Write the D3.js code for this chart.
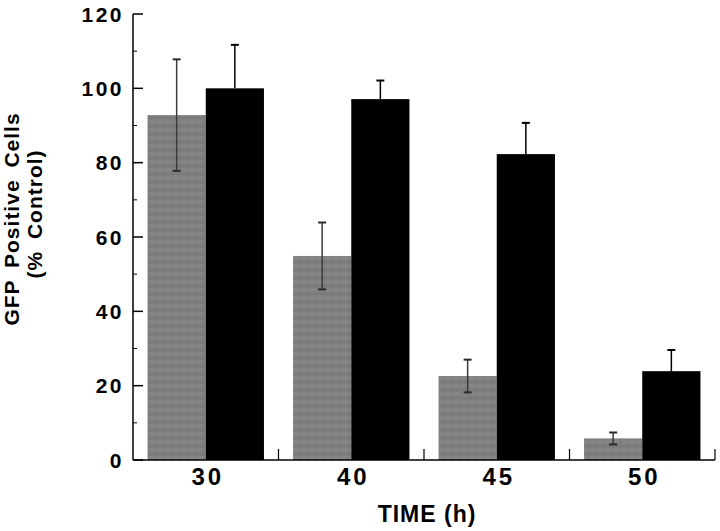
<!DOCTYPE html>
<html>
<head>
<meta charset="utf-8">
<script src="https://cdn.jsdelivr.net/npm/d3@7"></script>
<style>
  html, body { margin: 0; padding: 0; background: #fff; }
  svg { display: block; }
  text { font-family: "Liberation Sans", Arial, Helvetica, sans-serif; font-weight: bold; fill: #000; }
</style>
</head>
<body>
<svg id="chart" width="720" height="531"></svg>
<script>
// ---- data ----
const categories = ["30", "40", "45", "50"];
const seriesNames = ["treated", "control"];
const grayValues = [92.8, 54.9, 22.6, 5.8];
const grayErrors = [15.0, 9.0, 4.4, 1.6];
const blackValues = [100.0, 97.1, 82.3, 23.9];
const blackErrors = [11.7, 5.0, 8.4, 5.7];
const yTicks = [0, 20, 40, 60, 80, 100, 120];
const yMinorTicks = [10, 30, 50, 70, 90, 110];
const xTitle = "TIME (h)";
const yTitle1 = "GFP Positive Cells";
const yTitle2 = "(% Control)";

const svg = d3.select("#chart");

const x = d3.scaleBand().domain(categories).range([133, 715]).paddingInner(0.2).paddingOuter(0.1);
const xs = d3.scaleBand().domain(seriesNames).range([0, x.bandwidth()]).padding(0);
const y = d3.scaleLinear().domain([0, 120]).range([460, 14]);

// soft textured gray for the first series
const defs = svg.append("defs");
const pat = defs.append("pattern").attr("id", "grayTex").attr("patternUnits", "userSpaceOnUse")
  .attr("width", 8).attr("height", 8);
pat.append("rect").attr("width", 8).attr("height", 8).attr("fill", "#808080");
pat.append("rect").attr("y", 0).attr("width", 8).attr("height", 3).attr("fill", "#858585");
pat.append("rect").attr("y", 5).attr("width", 8).attr("height", 2).attr("fill", "#7a7a7a");
pat.append("rect").attr("x", 4).attr("width", 1).attr("height", 8).attr("fill", "#7b7b7b");

const data = categories.map((c, i) => ({
  cat: c,
  gray: grayValues[i], grayErr: grayErrors[i],
  black: blackValues[i], blackErr: blackErrors[i]
}));

// bars
const g = svg.append("g");
g.selectAll("rect.gray").data(data).join("rect")
  .attr("class", "gray")
  .attr("x", d => x(d.cat) + xs("treated"))
  .attr("width", xs.bandwidth())
  .attr("y", d => y(d.gray))
  .attr("height", d => y(0) - y(d.gray))
  .attr("fill", "url(#grayTex)");

g.selectAll("rect.black").data(data).join("rect")
  .attr("class", "black")
  .attr("x", d => x(d.cat) + xs("control"))
  .attr("width", xs.bandwidth())
  .attr("y", d => y(d.black))
  .attr("height", d => y(0) - y(d.black))
  .attr("fill", "#000");

// error bars
const capW = 4;
data.forEach(d => {
  const cx = x(d.cat) + xs("treated") + xs.bandwidth() / 2;
  g.append("line").attr("x1", cx).attr("x2", cx)
    .attr("y1", y(d.gray - d.grayErr)).attr("y2", y(d.gray + d.grayErr))
    .attr("stroke", "#3a3a3a").attr("stroke-width", 1.5);
  [d.gray - d.grayErr, d.gray + d.grayErr].forEach(v => {
    g.append("line").attr("x1", cx - capW).attr("x2", cx + capW)
      .attr("y1", y(v)).attr("y2", y(v))
      .attr("stroke", "#2a2a2a").attr("stroke-width", 2);
  });
  const bx = x(d.cat) + xs("control") + xs.bandwidth() / 2;
  g.append("line").attr("x1", bx).attr("x2", bx)
    .attr("y1", y(d.black)).attr("y2", y(d.black + d.blackErr))
    .attr("stroke", "#000").attr("stroke-width", 1.5);
  g.append("line").attr("x1", bx - capW).attr("x2", bx + capW)
    .attr("y1", y(d.black + d.blackErr)).attr("y2", y(d.black + d.blackErr))
    .attr("stroke", "#000").attr("stroke-width", 2);
});

// y axis
const yAxis = svg.append("g").attr("transform", "translate(133,0)");
yAxis.append("line").attr("x1", 0).attr("x2", 0).attr("y1", y(120)).attr("y2", y(0))
  .attr("stroke", "#000").attr("stroke-width", 1.5);
yAxis.selectAll("line.major").data(yTicks).join("line").attr("class", "major")
  .attr("x1", 0).attr("x2", 10).attr("y1", d => y(d)).attr("y2", d => y(d))
  .attr("stroke", "#000").attr("stroke-width", 1.5);
yAxis.selectAll("line.minor").data(yMinorTicks).join("line").attr("class", "minor")
  .attr("x1", 0).attr("x2", 4).attr("y1", d => y(d)).attr("y2", d => y(d))
  .attr("stroke", "#000").attr("stroke-width", 1);
yAxis.selectAll("text").data(yTicks).join("text")
  .attr("x", -9).attr("y", d => y(d)).attr("dy", "0.36em")
  .attr("text-anchor", "end").attr("font-size", 21).attr("letter-spacing", 2.5)
  .text(d => d);

// x axis
const xAxis = svg.append("g");
xAxis.append("line").attr("x1", 133).attr("x2", 715).attr("y1", y(0)).attr("y2", y(0))
  .attr("stroke", "#000").attr("stroke-width", 1.5);
const boundaries = categories.map(c => x(c) - x.step() * x.paddingInner() / 2).slice(1).concat([715]);
xAxis.selectAll("line.tick").data(boundaries).join("line").attr("class", "tick")
  .attr("x1", d => d).attr("x2", d => d).attr("y1", y(0)).attr("y2", y(0) - 11)
  .attr("stroke", "#000").attr("stroke-width", 1.2);
xAxis.selectAll("text").data(categories).join("text")
  .attr("x", d => x(d) + x.bandwidth() / 2 + 2).attr("y", 485)
  .attr("text-anchor", "middle").attr("font-size", 24).attr("letter-spacing", 3)
  .text(d => d);

// titles
svg.append("text").attr("x", 427).attr("y", 522).attr("text-anchor", "middle")
  .attr("font-size", 23).attr("letter-spacing", 1).text(xTitle);

svg.append("text").attr("transform", "translate(19,219) rotate(-90)")
  .attr("text-anchor", "middle").attr("font-size", 21).attr("letter-spacing", 1)
  .attr("word-spacing", 5).text(yTitle1);
svg.append("text").attr("transform", "translate(42,214) rotate(-90)")
  .attr("text-anchor", "middle").attr("font-size", 21).attr("letter-spacing", 1)
  .attr("word-spacing", 5).text(yTitle2);
</script>
</body>
</html>
